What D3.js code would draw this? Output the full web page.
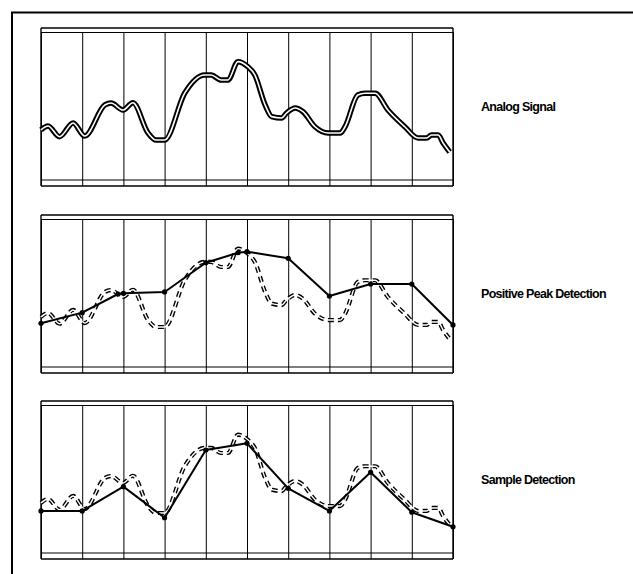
<!DOCTYPE html>
<html>
<head>
<meta charset="utf-8">
<script src="https://cdn.jsdelivr.net/npm/d3@7"></script>
<style>
  html, body { margin: 0; padding: 0; background: #fff; }
  svg { display: block; }
  .lbl { font-family: "Liberation Sans Narrow", "Liberation Sans", Arial, sans-serif; font-size: 12.5px; font-weight: bold; fill: #000; letter-spacing: -0.7px; }
</style>
</head>
<body>
<svg id="chart" width="633" height="574"></svg>
<script>
// ---- data ----
const panelLabels = ["Analog Signal", "Positive Peak Detection", "Sample Detection"];
const gridTicks = [0, 1, 2, 3, 4, 5, 6, 7, 8, 9, 10];

const analogX = [0, 0.17, 0.45, 0.78, 1.06, 1.55, 1.70, 1.99, 2.23, 2.60, 2.79, 3.00, 3.49, 3.97, 4.13, 4.37, 4.54, 4.78, 5.02, 5.19, 5.44, 5.60, 5.84, 5.96, 6.17, 6.36, 6.65, 6.97, 7.26, 7.38, 7.69, 7.86, 8.11, 8.42, 8.83, 9.15, 9.36, 9.48, 9.64, 9.76, 9.92];
const analogY = [35.5, 38, 31.2, 39.9, 31.6, 51.3, 52.5, 48.1, 52.7, 33.5, 29.1, 29.1, 58.9, 70.3, 70.3, 67.1, 67.1, 78.7, 75.5, 70.3, 51.3, 43.9, 43.0, 46.2, 49.4, 47.0, 37.5, 33.5, 33.5, 37.5, 57.6, 58.7, 58.7, 48.1, 37.5, 30.4, 30.4, 32.3, 32.3, 27.2, 21.5];

const peakX = [0, 1, 1.87, 2, 3, 4, 4.78, 5, 6, 7, 8, 9, 10];
const peakY = [31.5, 38.2, 50.0, 50.4, 51.3, 69.8, 76.1, 76.8, 72.6, 48.7, 56.3, 56.3, 30.4];

const sampleX = [0, 1, 2, 3, 4, 5, 6, 7, 8, 9, 10];
const sampleY = [30.4, 30.4, 45.8, 26.1, 69.0, 73.2, 44.7, 30.4, 54.9, 29.6, 20.4];

// ---- layout ----
const svg = d3.select("#chart");
const left = 41, right = 453, panelH = 158;
const panelTops = [28, 215, 401];

const x = d3.scaleLinear().domain([0, 10]).range([left, right]);

const analog = analogX.map((v, i) => [v, analogY[i]]);
const peak = peakX.map((v, i) => [v, peakY[i]]);
const sample = sampleX.map((v, i) => [v, sampleY[i]]);

// outer frame
svg.append("path")
  .attr("d", "M633,12.5H12V574")
  .attr("fill", "none").attr("stroke", "#000").attr("stroke-width", 2);

panelTops.forEach((top, p) => {
  const bottom = top + panelH;
  const y = d3.scaleLinear().domain([0, 100]).range([bottom, top]);
  const g = svg.append("g");

  // vertical grid via axis
  const axis = d3.axisBottom(x).tickValues(gridTicks).tickSizeInner(-(panelH - 4)).tickSizeOuter(0).tickFormat("");
  const ax = g.append("g").attr("transform", `translate(0,${bottom})`).call(axis);
  ax.select(".domain").remove();
  ax.selectAll(".tick line").attr("stroke", "#000").attr("stroke-width", 1);

  // frame: double top and bottom lines
  const hl = (yy, w) => g.append("line").attr("x1", left).attr("x2", right)
    .attr("y1", yy).attr("y2", yy).attr("stroke", "#000").attr("stroke-width", w);
  hl(top, 1.6);
  hl(top + 4.5, 1);
  hl(bottom - 6, 1);
  hl(bottom, 1.4);
  g.append("line").attr("x1", left).attr("x2", left).attr("y1", top).attr("y2", bottom).attr("stroke", "#000").attr("stroke-width", 1.4);
  g.append("line").attr("x1", right).attr("x2", right).attr("y1", top).attr("y2", bottom).attr("stroke", "#000").attr("stroke-width", 1.4);

  const line = d3.line().x(d => x(d[0])).y(d => y(d[1])).curve(d3.curveMonotoneX);

  if (p === 0) {
    g.append("path").attr("d", line(analog)).attr("fill", "none")
      .attr("stroke", "#000").attr("stroke-width", 5.5).attr("stroke-linejoin", "round");
    g.append("path").attr("d", line(analog)).attr("fill", "none")
      .attr("stroke", "#fff").attr("stroke-width", 1.6).attr("stroke-linejoin", "round");
  } else {
    g.append("path").attr("d", line(analog)).attr("fill", "none")
      .attr("stroke", "#000").attr("stroke-width", 4.2).attr("stroke-dasharray", "6,4");
    g.append("path").attr("d", line(analog)).attr("fill", "none")
      .attr("stroke", "#fff").attr("stroke-width", 1.4);

    const pts = p === 1 ? peak : sample;
    const straight = d3.line().x(d => x(d[0])).y(d => y(d[1]));
    g.append("path").attr("d", straight(pts)).attr("fill", "none")
      .attr("stroke", "#000").attr("stroke-width", 2).attr("stroke-linejoin", "round");
    g.selectAll("circle.pt").data(pts).join("circle").attr("class", "pt")
      .attr("cx", d => x(d[0])).attr("cy", d => y(d[1])).attr("r", 2.6).attr("fill", "#000");
  }

  g.append("text").attr("class", "lbl")
    .attr("x", 481).attr("y", top + panelH / 2 + 4)
    .text(panelLabels[p]);
});
</script>
</body>
</html>
